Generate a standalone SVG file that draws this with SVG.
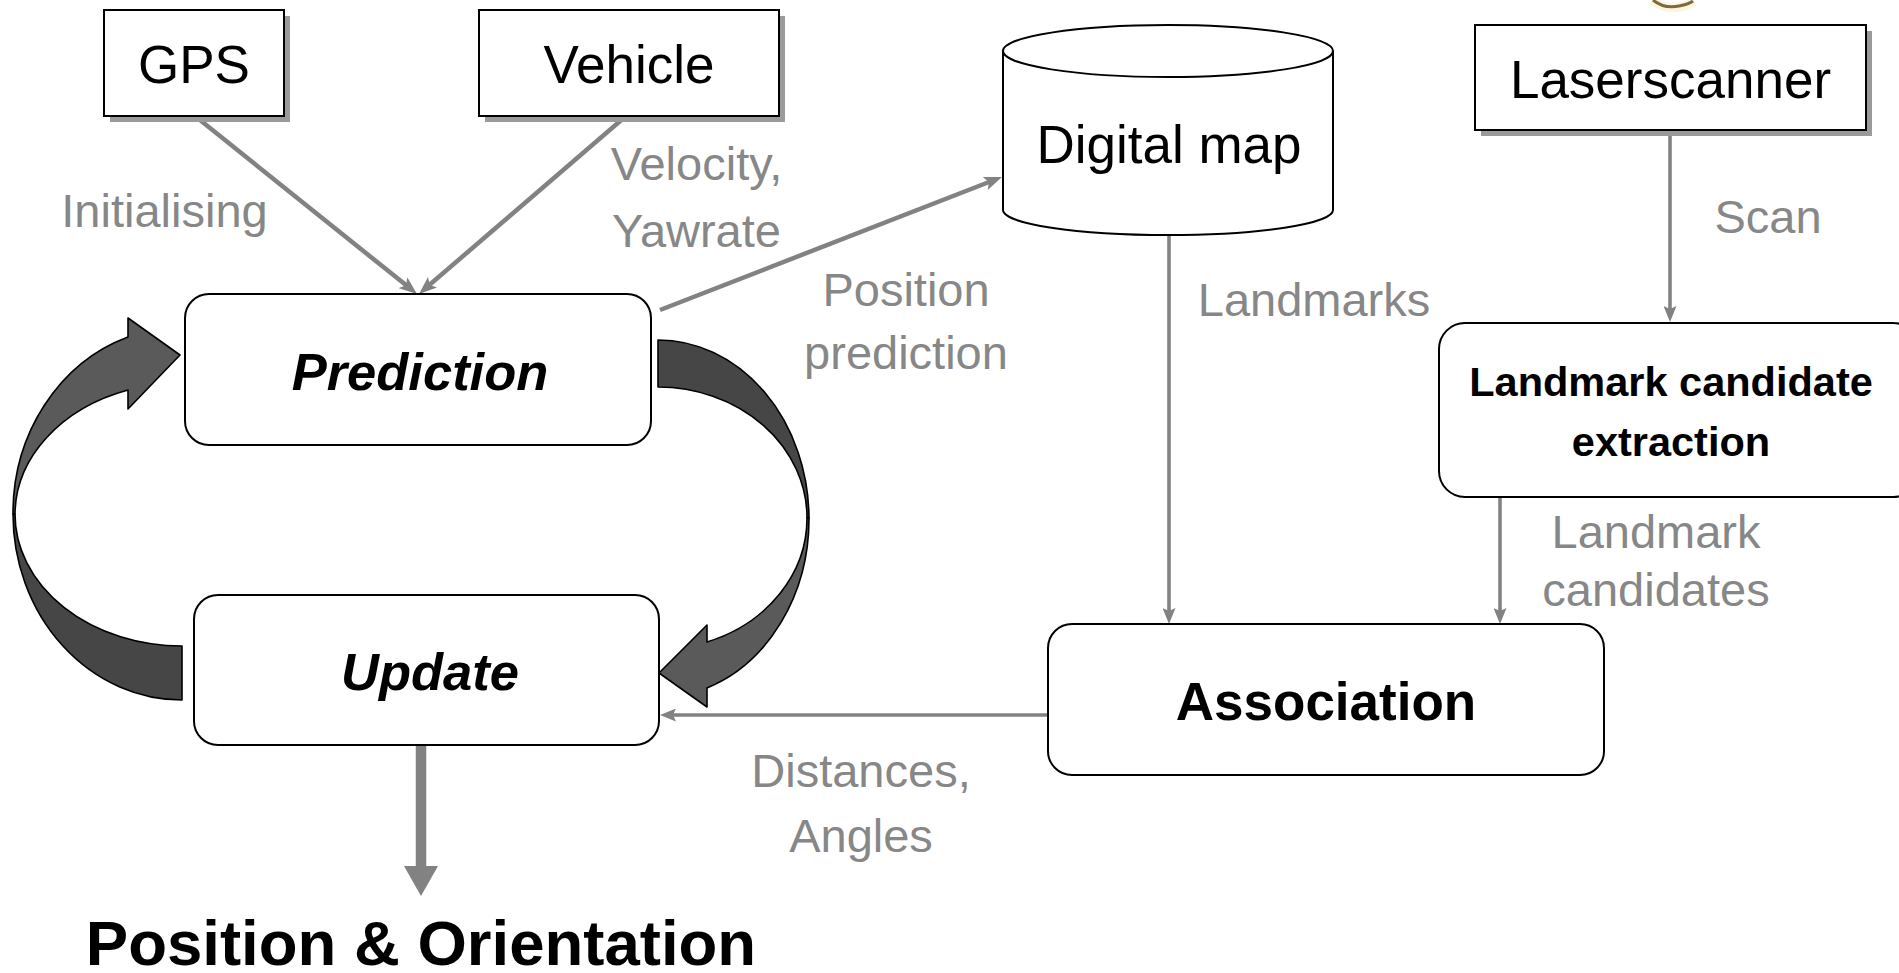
<svg xmlns="http://www.w3.org/2000/svg" width="1899" height="973" viewBox="0 0 1899 973">
<style>
.box{fill:#fff;stroke:#000;stroke-width:2}
.shadow{fill:#9a9a9a}
.t{font-family:"Liberation Sans",Arial,sans-serif;fill:#000;text-anchor:middle}
.title{font-size:53px}
.bi{font-size:52.5px;font-weight:bold;font-style:italic}
.b{font-weight:bold}
.lbl{font-family:"Liberation Sans",Arial,sans-serif;fill:#878787;font-size:47px;text-anchor:middle}
.con{fill:none;stroke:#828282}
.thick{stroke-width:4.5}
.thin{stroke-width:3.6}
.light{fill:#5a5a5a;stroke:#000;stroke-width:1.6;stroke-linejoin:round}
.dark{fill:#464646;stroke:#000;stroke-width:1.6;stroke-linejoin:round}
</style>
<defs>
<marker id="big" viewBox="0 0 18 14" refX="7" refY="7" markerWidth="18" markerHeight="14" orient="auto" markerUnits="userSpaceOnUse">
<path d="M0,0 L18,7 L0,14 L4,7 z" fill="#828282"/>
</marker>
<marker id="small" viewBox="0 0 16 13" refX="6" refY="6.5" markerWidth="16" markerHeight="13" orient="auto" markerUnits="userSpaceOnUse">
<path d="M0,0 L16,6.5 L0,13 L3,6.5 z" fill="#828282"/>
</marker>
</defs>
<rect width="1899" height="973" fill="#fff"/>

<g id="clipart-fragment">
<path d="M1652,0 Q1664,10 1680,7 Q1690,5 1694,2" fill="none" stroke="#fbf6e0" stroke-width="9"/>
<path d="M1653,0 Q1664,9 1679,6 Q1689,4 1693,1" fill="none" stroke="#7d6b3c" stroke-width="3"/>
</g>

<g id="connectors">
<line class="con thick" x1="195" y1="116" x2="408.4" y2="287.1" marker-end="url(#big)"/>
<line class="con thick" x1="626" y1="116" x2="427.3" y2="286.8" marker-end="url(#big)"/>
<line class="con thick" x1="660" y1="310" x2="991.7" y2="181" marker-end="url(#big)"/>
<line class="con thin" x1="1169" y1="235" x2="1169" y2="614" marker-end="url(#small)"/>
<line class="con thin" x1="1670" y1="130" x2="1670" y2="312" marker-end="url(#small)"/>
<line class="con thin" x1="1500" y1="497" x2="1500" y2="614" marker-end="url(#small)"/>
<line class="con thin" x1="1048" y1="715" x2="670" y2="715" marker-end="url(#small)"/>
<line class="con" stroke-width="10.5" x1="421" y1="745" x2="421" y2="868"/>
<polygon points="404,866 438,866 421,896" fill="#828282"/>
</g>

<g id="loop-left">
<path class="dark" d="M15,514 A167,132 0 0 0 182,646 L182,700 A169,186 0 0 1 13,514 Z"/>
<path class="light" d="M128,337 L128,318 L180,355 L128,409 L128,390 A167,132 0 0 0 15,514 L13,514 A169,186 0 0 1 128,337 Z"/>
</g>
<g id="loop-right">
<path class="dark" d="M658,340 A151,179 0 0 1 809,518 L807,518 A149,131 0 0 0 658,387 Z"/>
<path class="light" d="M809,518 A151,179 0 0 1 707,688 L707,707 L659,673 L707,625 L707,642 A149,131 0 0 0 807,518 Z"/>
</g>

<g id="gps">
<rect class="shadow" x="110" y="16" width="180" height="106"/>
<rect class="box" x="104" y="10" width="180" height="106"/>
<text class="t title" x="194" y="83">GPS</text>
</g>
<g id="vehicle">
<rect class="shadow" x="485" y="16" width="300" height="106"/>
<rect class="box" x="479" y="10" width="300" height="106"/>
<text class="t title" x="629" y="83">Vehicle</text>
</g>
<g id="laserscanner">
<rect class="shadow" x="1481" y="31" width="391" height="105"/>
<rect class="box" x="1475" y="25" width="391" height="105"/>
<text class="t title" x="1670.5" y="98">Laserscanner</text>
</g>
<g id="digital-map">
<path class="box" d="M1003,51 L1003,210 A165,25 0 0 0 1333,210 L1333,51"/>
<ellipse class="box" cx="1168" cy="51" rx="165" ry="26"/>
<text class="t title" x="1169" y="163">Digital map</text>
</g>
<g id="prediction">
<rect class="box" x="185" y="294" width="466" height="151" rx="24" ry="24"/>
<text class="t bi" x="420" y="390">Prediction</text>
</g>
<g id="update">
<rect class="box" x="194" y="595" width="465" height="150" rx="24" ry="24"/>
<text class="t bi" x="430" y="690">Update</text>
</g>
<g id="landmark-extraction">
<rect class="box" x="1439" y="323" width="480" height="174" rx="26" ry="26"/>
<text class="t b" style="font-size:41.5px" x="1671" y="396">Landmark candidate</text>
<text class="t b" style="font-size:41.5px" x="1671" y="456">extraction</text>
</g>
<g id="association">
<rect class="box" x="1048" y="624" width="556" height="151" rx="24" ry="24"/>
<text class="t b" style="font-size:53px" x="1326" y="720">Association</text>
</g>
<g id="output">
<text class="t b" style="font-size:63.5px" x="421" y="965">Position &amp; Orientation</text>
</g>

<g id="labels">
<text class="lbl" x="164.5" y="227">Initialising</text>
<text class="lbl" x="696.5" y="180">Velocity,</text>
<text class="lbl" x="696.5" y="247">Yawrate</text>
<text class="lbl" x="906" y="306">Position</text>
<text class="lbl" x="906" y="369">prediction</text>
<text class="lbl" x="1314" y="316">Landmarks</text>
<text class="lbl" x="1768" y="233">Scan</text>
<text class="lbl" x="1656" y="548">Landmark</text>
<text class="lbl" x="1656" y="606">candidates</text>
<text class="lbl" x="861" y="787">Distances,</text>
<text class="lbl" x="861" y="852">Angles</text>
</g>
</svg>
